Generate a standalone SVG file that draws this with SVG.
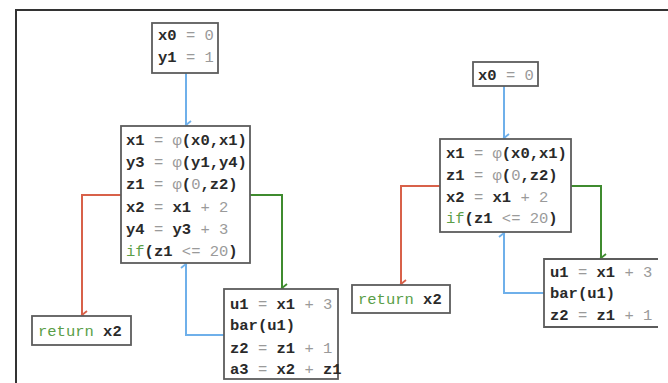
<svg xmlns="http://www.w3.org/2000/svg" width="668" height="383" viewBox="0 0 668 383">
<style>
.box{fill:#fff;stroke:#5c5c5c;stroke-width:1.8}
.t{font-family:"Liberation Mono","DejaVu Sans Mono",monospace;font-size:15.5px;font-weight:bold;fill:#2a2a2a}
.g{fill:#9a9a9a;font-weight:normal}
.k{fill:#5a9e48;font-weight:normal}
.e{fill:none;stroke-width:2}
.b{stroke:#6fb0ea}
.r{stroke:#d8614a}
.gr{stroke:#3f8b2f}
.frame{stroke:#333;stroke-width:2;fill:none}
</style>
<defs>
<marker id="mb" markerWidth="10" markerHeight="10" refX="5" refY="8" orient="auto" markerUnits="userSpaceOnUse" viewBox="0 0 10 10"><path d="M1,3 L5,8 L9,3" fill="none" stroke="#6fb0ea" stroke-width="1.8"/></marker>
<marker id="mr" markerWidth="10" markerHeight="10" refX="5" refY="8" orient="auto" markerUnits="userSpaceOnUse" viewBox="0 0 10 10"><path d="M1,3 L5,8 L9,3" fill="none" stroke="#d8614a" stroke-width="1.8"/></marker>
<marker id="mg" markerWidth="10" markerHeight="10" refX="5" refY="8" orient="auto" markerUnits="userSpaceOnUse" viewBox="0 0 10 10"><path d="M1,3 L5,8 L9,3" fill="none" stroke="#3f8b2f" stroke-width="1.8"/></marker>
</defs>
<path class="frame" d="M15,10 H668 M16,10 V383"/>
<g id="connectors">
<path class="e b" d="M186,73 V125" marker-end="url(#mb)"/>
<path class="e r" d="M121,195 H82 V315" marker-end="url(#mr)"/>
<path class="e gr" d="M250,195 H282 V288" marker-end="url(#mg)"/>
<path class="e b" d="M224,335 H186 V264" marker-end="url(#mb)"/>
<path class="e b" d="M504,86 V138" marker-end="url(#mb)"/>
<path class="e r" d="M440,186 H401 V284" marker-end="url(#mr)"/>
<path class="e gr" d="M571,186 H601 V258" marker-end="url(#mg)"/>
<path class="e b" d="M544,293 H504 V233" marker-end="url(#mb)"/>
</g>
<g id="nodeA">
<rect class="box" x="152" y="23" width="66" height="50"/>
<text class="t" x="158" y="40">x0 <tspan class="g">= 0</tspan></text>
<text class="t" x="158" y="62">y1 <tspan class="g">= 1</tspan></text>
</g>
<g id="nodeB">
<rect class="box" x="121" y="126" width="129" height="137"/>
<text class="t" x="126" y="145">x1 <tspan class="g">= φ</tspan>(x0,x1)</text>
<text class="t" x="126" y="167">y3 <tspan class="g">= φ</tspan>(y1,y4)</text>
<text class="t" x="126" y="189">z1 <tspan class="g">= φ</tspan>(<tspan class="g">0</tspan>,z2)</text>
<text class="t" x="126" y="212">x2 <tspan class="g">=</tspan> x1 <tspan class="g">+ 2</tspan></text>
<text class="t" x="126" y="234">y4 <tspan class="g">=</tspan> y3 <tspan class="g">+ 3</tspan></text>
<text class="t" x="126" y="256"><tspan class="k">if</tspan>(z1 <tspan class="g">&lt;= 20</tspan>)</text>
</g>
<g id="nodeRetL">
<rect class="box" x="32" y="316" width="99" height="29"/>
<text class="t" x="38" y="336"><tspan class="k">return</tspan> x2</text>
</g>
<g id="nodeC">
<rect class="box" x="224" y="289" width="114" height="90"/>
<text class="t" x="230" y="309">u1 <tspan class="g">=</tspan> x1 <tspan class="g">+ 3</tspan></text>
<text class="t" x="230" y="330">bar(u1)</text>
<text class="t" x="230" y="353">z2 <tspan class="g">=</tspan> z1 <tspan class="g">+ 1</tspan></text>
<text class="t" x="230" y="374">a3 <tspan class="g">=</tspan> x2 <tspan class="g">+</tspan> z1</text>
</g>
<g id="nodeD">
<rect class="box" x="473" y="62" width="65" height="24"/>
<text class="t" x="478" y="80">x0 <tspan class="g">= 0</tspan></text>
</g>
<g id="nodeE">
<rect class="box" x="440" y="139" width="131" height="93"/>
<text class="t" x="446" y="158">x1 <tspan class="g">= φ</tspan>(x0,x1)</text>
<text class="t" x="446" y="180">z1 <tspan class="g">= φ</tspan>(<tspan class="g">0</tspan>,z2)</text>
<text class="t" x="446" y="202">x2 <tspan class="g">=</tspan> x1 <tspan class="g">+ 2</tspan></text>
<text class="t" x="446" y="223"><tspan class="k">if</tspan>(z1 <tspan class="g">&lt;= 20</tspan>)</text>
</g>
<g id="nodeRetR">
<rect class="box" x="352" y="285" width="98" height="28"/>
<text class="t" x="358" y="304"><tspan class="k">return</tspan> x2</text>
</g>
<g id="nodeF">
<path class="box" d="M658,259 H544 V327 H658"/>
<text class="t" x="550" y="277">u1 <tspan class="g">=</tspan> x1 <tspan class="g">+ 3</tspan></text>
<text class="t" x="550" y="298">bar(u1)</text>
<text class="t" x="550" y="320">z2 <tspan class="g">=</tspan> z1 <tspan class="g">+ 1</tspan></text>
</g>
</svg>
